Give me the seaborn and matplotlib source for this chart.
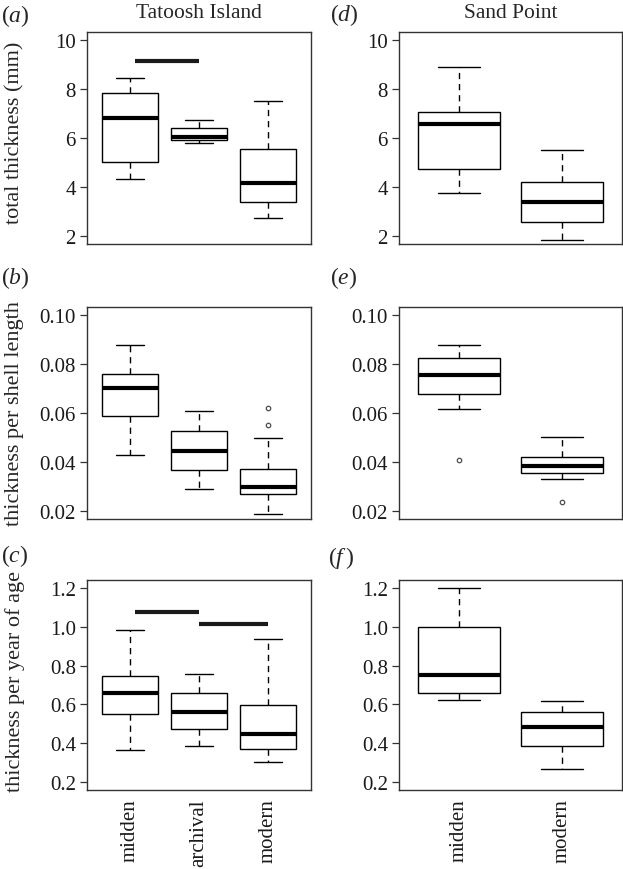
import pandas as pd
import seaborn as sns
import matplotlib.pyplot as plt
from matplotlib.ticker import FormatStrFormatter

# boxplots of shell thickness, Tatoosh Island vs Sand Point
# each box is given by five numbers: min, q1, median, q3, max

tatoosh_groups = ['midden', 'archival', 'modern']
sand_groups = ['midden', 'modern']

# (a) total thickness (mm), Tatoosh Island
total_tatoosh = [[4.32, 5.02, 6.82, 7.85, 8.45],
                 [5.79, 5.90, 6.06, 6.40, 6.74],
                 [2.72, 3.41, 4.17, 5.57, 7.50]]
# (d) total thickness (mm), Sand Point
total_sand = [[3.75, 4.74, 6.56, 7.07, 8.88],
              [1.86, 2.56, 3.41, 4.22, 5.51]]

# (b) thickness per shell length, Tatoosh Island
length_tatoosh = [[0.0429, 0.0589, 0.0700, 0.0758, 0.0879],
                  [0.0289, 0.0368, 0.0447, 0.0527, 0.0609],
                  [0.0188, 0.0269, 0.0299, 0.0372, 0.0498]]
length_tatoosh_out = [[], [], [0.055, 0.062]]
# (e) thickness per shell length, Sand Point
length_sand = [[0.0618, 0.0679, 0.0754, 0.0826, 0.0877],
               [0.0332, 0.0355, 0.0382, 0.0420, 0.0501]]
length_sand_out = [[0.0409], [0.0239]]

# (c) thickness per year of age, Tatoosh Island
age_tatoosh = [[0.364, 0.553, 0.661, 0.744, 0.981],
               [0.388, 0.473, 0.563, 0.659, 0.758],
               [0.305, 0.371, 0.446, 0.598, 0.937]]
# (f) thickness per year of age, Sand Point
age_sand = [[0.621, 0.660, 0.749, 0.997, 1.200],
            [0.270, 0.384, 0.484, 0.561, 0.617]]

# significance bars: (start, end, height), start/end in group positions
total_tatoosh_bars = [(0.07, 1, 9.14)]
age_tatoosh_bars = [(0.07, 1, 1.076), (1, 2, 1.012)]

sns.set_style('ticks')
plt.rcParams['font.family'] = ['Liberation Serif', 'DejaVu Serif']
plt.rcParams['mathtext.fontset'] = 'custom'
plt.rcParams['mathtext.rm'] = 'Liberation Serif'
plt.rcParams['mathtext.it'] = 'Liberation Serif:italic'

W, H = 623, 870
fig = plt.figure(figsize=(W / 100, H / 100), dpi=100)


def add_ax(left, top, right, bottom):
    # pixel box -> figure fraction
    return fig.add_axes([left / W, 1 - bottom / H, (right - left) / W, (bottom - top) / H])


def draw_panel(ax, groups, summaries, outliers, bars, ylim, yticks, fmt, bottom_row):
    df = pd.DataFrame([(g, v) for g, vals in zip(groups, summaries) for v in vals],
                      columns=['group', 'value'])
    sns.boxplot(data=df, x='group', y='value', order=groups, ax=ax,
                whis=(0, 100), width=0.8, color='white', linecolor='black',
                linewidth=1.0, showfliers=False, capwidths=0.4,
                whiskerprops=dict(linestyle=(0, (4.5, 3.5))),
                medianprops=dict(linewidth=3.0))
    if outliers is not None:
        odf = pd.DataFrame([(g, v) for g, vals in zip(groups, outliers) for v in vals],
                           columns=['group', 'value'])
        sns.stripplot(data=odf, x='group', y='value', order=groups, ax=ax,
                      jitter=False, color='white', edgecolor='0.3',
                      linewidth=0.9, size=3.2)
    for x0, x1, y in bars:
        ax.hlines(y, x0, x1, color='#1a1a1a', linewidth=3.0)

    n = len(groups)
    ax.set_xlim(-0.5 - 0.04 * n, n - 0.5 + 0.04 * n)
    span = ylim[1] - ylim[0]
    ax.set_ylim(ylim[0] - 0.04 * span, ylim[1] + 0.04 * span)
    ax.set_yticks(yticks)
    ax.yaxis.set_major_formatter(FormatStrFormatter(fmt))
    ax.set_xlabel('')
    ax.set_ylabel('')
    ax.tick_params(axis='y', length=5, width=0.9, pad=3, labelsize=15,
                   color='#333333', labelcolor='#1a1a1a')
    ax.tick_params(axis='x', length=0, pad=6, labelsize=15, labelrotation=90,
                   labelcolor='#1a1a1a')
    if not bottom_row:
        ax.set_xticklabels([])
    for sp in ax.spines.values():
        sp.set_color('#333333')
        sp.set_linewidth(1.0)


# panel boxes in pixels: left, top, right, bottom
left_col = (87, 311)
right_col = (399, 622)
rows = [(33, 245), (308, 520), (581, 791)]

ax_a = add_ax(left_col[0], rows[0][0], left_col[1], rows[0][1])
ax_d = add_ax(right_col[0], rows[0][0], right_col[1], rows[0][1])
ax_b = add_ax(left_col[0], rows[1][0], left_col[1], rows[1][1])
ax_e = add_ax(right_col[0], rows[1][0], right_col[1], rows[1][1])
ax_c = add_ax(left_col[0], rows[2][0], left_col[1], rows[2][1])
ax_f = add_ax(right_col[0], rows[2][0], right_col[1], rows[2][1])

thick_ticks = [2, 4, 6, 8, 10]
len_ticks = [0.02, 0.04, 0.06, 0.08, 0.10]
age_ticks = [0.2, 0.4, 0.6, 0.8, 1.0, 1.2]

draw_panel(ax_a, tatoosh_groups, total_tatoosh, None, total_tatoosh_bars,
           (2, 10), thick_ticks, '%d', False)
draw_panel(ax_d, sand_groups, total_sand, None, [], (2, 10), thick_ticks, '%d', False)
draw_panel(ax_b, tatoosh_groups, length_tatoosh, length_tatoosh_out, [],
           (0.02, 0.10), len_ticks, '%.2f', False)
draw_panel(ax_e, sand_groups, length_sand, length_sand_out, [],
           (0.02, 0.10), len_ticks, '%.2f', False)
draw_panel(ax_c, tatoosh_groups, age_tatoosh, None, age_tatoosh_bars,
           (0.2, 1.2), age_ticks, '%.1f', True)
draw_panel(ax_f, sand_groups, age_sand, None, [], (0.2, 1.2), age_ticks, '%.1f', True)

ax_a.set_title('Tatoosh Island', fontsize=15.5, pad=11)
ax_d.set_title('Sand Point', fontsize=15.5, pad=11)

# y labels
ylabels = [('total thickness (mm)', 133), ('thickness per shell length', 414),
           ('thickness per year of age', 682)]
for txt, yc in ylabels:
    fig.text(15 / W, 1 - yc / H, txt, rotation=90, ha='center', va='center', fontsize=16)

# panel letters
letters = [('a', 1, 16), ('d', 330, 15), ('b', 1, 278), ('e', 330, 278),
           ('c', 1, 556), ('f', 328, 558)]
for let, xp, yp in letters:
    lab = r'$(\mathit{%s}\,)$' % let if let == 'f' else r'$(\mathit{%s})$' % let
    fig.text(xp / W, 1 - yp / H, lab, ha='left', va='center', fontsize=17)

plt.savefig('out.png', dpi=100)
